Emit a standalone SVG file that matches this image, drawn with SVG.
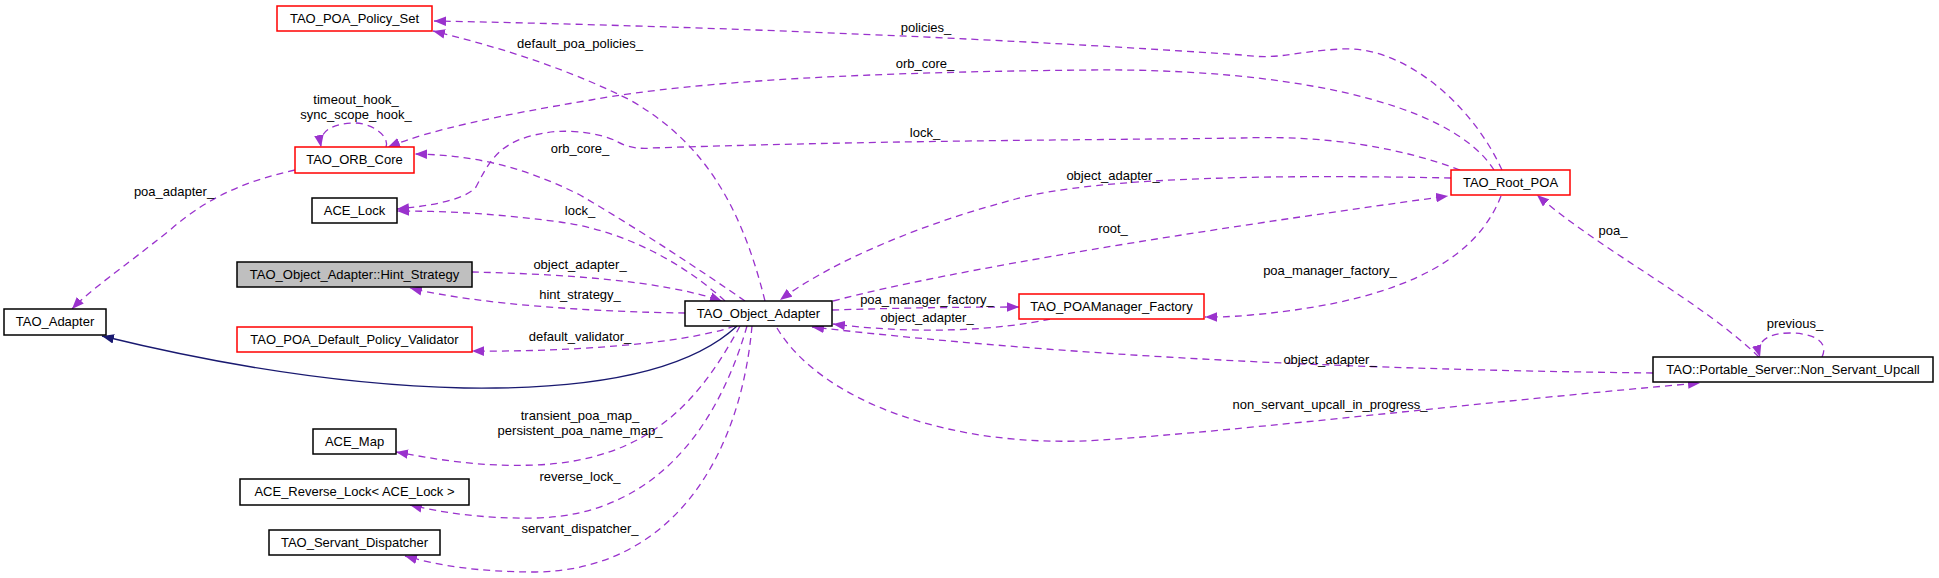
<svg xmlns="http://www.w3.org/2000/svg" width="1939" height="578" viewBox="0 0 1939 578">
<style>
text{font-family:"Liberation Sans",Arial,sans-serif;font-size:13px;fill:#000}
.n text{text-anchor:middle}
.nb{fill:#fff;stroke:#000;stroke-width:1.5}
.nr{fill:#fff;stroke:#ff0000;stroke-width:1.5}
.ng{fill:#bfbfbf;stroke:#000;stroke-width:1.5}
.e{fill:none;stroke:#9a32cd;stroke-width:1.3;stroke-dasharray:7,5;marker-end:url(#ap)}
.inh{fill:none;stroke:#191970;stroke-width:1.3;marker-end:url(#an)}
.l{text-anchor:middle}
</style>
<defs>
<marker id="ap" viewBox="0 0 10 8" refX="10" refY="4" markerWidth="12" markerHeight="10" markerUnits="userSpaceOnUse" orient="auto"><path d="M0,0L10,4L0,8z" fill="#9a32cd"/></marker>
<marker id="an" viewBox="0 0 10 8" refX="10" refY="4" markerWidth="12" markerHeight="10" markerUnits="userSpaceOnUse" orient="auto"><path d="M0,0L10,4L0,8z" fill="#191970"/></marker>
</defs>
<rect width="1939" height="578" fill="#fff"/>
<g id="edges">
<path class="e" d="M1502,170 C1470,100 1400,45 1341,49 C1290,52 1280,60 1242,55 C1100,45 800,28 434,21"/>
<path class="e" d="M1494,170 C1450,100 1280,68 1089,70 C880,72 700,80 591,100 C500,115 430,130 388,147"/>
<path class="e" d="M1460,170 C1380,140 1300,136 1242,138 C1100,140 900,140 652,148 C630,150 620,143 614,140 C590,130 560,130 545,133 C500,140 490,160 476,187 C465,200 430,206 397,209"/>
<path class="e" d="M1451,178 C1300,175 1100,175 1012,200 C900,230 820,270 780,300"/>
<path class="e" d="M833,301 C950,270 1200,230 1448,196"/>
<path class="e" d="M765,301 C740,200 700,140 630,100 C560,65 490,45 433,31"/>
<path class="e" d="M745,301 C700,270 640,230 580,195 C520,165 470,155 415,154"/>
<path class="e" d="M725,301 C680,260 620,230 560,222 C500,214 450,211 397,211"/>
<path class="e" d="M472,272 C560,274 660,280 722,301"/>
<path class="e" d="M685,313 C600,312 480,305 410,288"/>
<path class="e" d="M735,326 C680,345 560,352 472,351"/>
<path class="inh" d="M737,326 C690,370 600,390 464,388 C330,385 200,360 102,336"/>
<path class="e" d="M295,170 C250,180 210,195 170,230 C120,270 90,290 72,309"/>
<path class="e" d="M740,326 C700,400 650,460 536,465 C480,467 440,460 396,452"/>
<path class="e" d="M747,326 C720,420 660,515 536,518 C480,519 440,512 410,505"/>
<path class="e" d="M752,326 C740,460 670,570 536,572 C480,572 440,566 405,556"/>
<path class="e" d="M832,310 C900,308 960,307 1019,307"/>
<path class="e" d="M1050,319 C1000,330 920,335 833,324"/>
<path class="e" d="M1501,196 C1480,250 1420,300 1251,315 C1230,317 1215,317 1205,317"/>
<path class="e" d="M1653,373 C1400,370 1100,360 812,327"/>
<path class="e" d="M777,328 C820,400 950,450 1102,440 C1250,430 1500,400 1700,383"/>
<path class="e" d="M1759,357 C1700,300 1600,250 1537,195"/>
<path class="e" d="M1822,357 C1830,340 1810,333 1790,333 C1770,333 1755,340 1760,357"/>
<path class="e" d="M386,147 C390,135 370,123 355,123 C335,123 318,130 321,147"/>
<text class="l" x="926" y="32">policies_</text>
<text class="l" x="925" y="68">orb_core_</text>
<text class="l" x="925" y="137">lock_</text>
<text class="l" x="1113" y="180">object_adapter_</text>
<text class="l" x="1113" y="233">root_</text>
<text class="l" x="580" y="48">default_poa_policies_</text>
<text class="l" x="356" y="104">timeout_hook_</text>
<text class="l" x="356" y="119">sync_scope_hook_</text>
<text class="l" x="580" y="153">orb_core_</text>
<text class="l" x="174" y="196">poa_adapter_</text>
<text class="l" x="580" y="215">lock_</text>
<text class="l" x="580" y="269">object_adapter_</text>
<text class="l" x="580" y="299">hint_strategy_</text>
<text class="l" x="580" y="341">default_validator_</text>
<text class="l" x="580" y="420">transient_poa_map_</text>
<text class="l" x="580" y="435">persistent_poa_name_map_</text>
<text class="l" x="580" y="481">reverse_lock_</text>
<text class="l" x="580" y="533">servant_dispatcher_</text>
<text class="l" x="927" y="304">poa_manager_factory_</text>
<text class="l" x="927" y="322">object_adapter_</text>
<text class="l" x="1330" y="275">poa_manager_factory_</text>
<text class="l" x="1613" y="235">poa_</text>
<text class="l" x="1330" y="364">object_adapter_</text>
<text class="l" x="1330" y="409">non_servant_upcall_in_progress_</text>
<text class="l" x="1795" y="328">previous_</text>
</g>
<g id="n_policy_set" class="n"><rect class="nr" x="277" y="6" width="155" height="25"/><text x="354.5" y="23">TAO_POA_Policy_Set</text></g>
<g id="n_orb_core" class="n"><rect class="nr" x="295" y="147" width="119" height="26"/><text x="354.5" y="164">TAO_ORB_Core</text></g>
<g id="n_ace_lock" class="n"><rect class="nb" x="312" y="198" width="85" height="25"/><text x="354.5" y="215">ACE_Lock</text></g>
<g id="n_hint" class="n"><rect class="ng" x="237" y="262" width="235" height="25"/><text x="354.5" y="279">TAO_Object_Adapter::Hint_Strategy</text></g>
<g id="n_adapter" class="n"><rect class="nb" x="4" y="309" width="102" height="26"/><text x="55" y="326">TAO_Adapter</text></g>
<g id="n_validator" class="n"><rect class="nr" x="237" y="327" width="235" height="25"/><text x="354.5" y="344">TAO_POA_Default_Policy_Validator</text></g>
<g id="n_ace_map" class="n"><rect class="nb" x="313" y="429" width="83" height="25"/><text x="354.5" y="446">ACE_Map</text></g>
<g id="n_reverse_lock" class="n"><rect class="nb" x="240" y="479" width="229" height="26"/><text x="354.5" y="496">ACE_Reverse_Lock&lt; ACE_Lock &gt;</text></g>
<g id="n_dispatcher" class="n"><rect class="nb" x="269" y="530" width="171" height="25"/><text x="354.5" y="547">TAO_Servant_Dispatcher</text></g>
<g id="n_object_adapter" class="n"><rect class="nb" x="685" y="301" width="147" height="25"/><text x="758.5" y="318">TAO_Object_Adapter</text></g>
<g id="n_factory" class="n"><rect class="nr" x="1019" y="294" width="185" height="25"/><text x="1111.5" y="311">TAO_POAManager_Factory</text></g>
<g id="n_root_poa" class="n"><rect class="nr" x="1451" y="170" width="119" height="25"/><text x="1510.5" y="187">TAO_Root_POA</text></g>
<g id="n_upcall" class="n"><rect class="nb" x="1653" y="357" width="280" height="25"/><text x="1793" y="374">TAO::Portable_Server::Non_Servant_Upcall</text></g>
</svg>
